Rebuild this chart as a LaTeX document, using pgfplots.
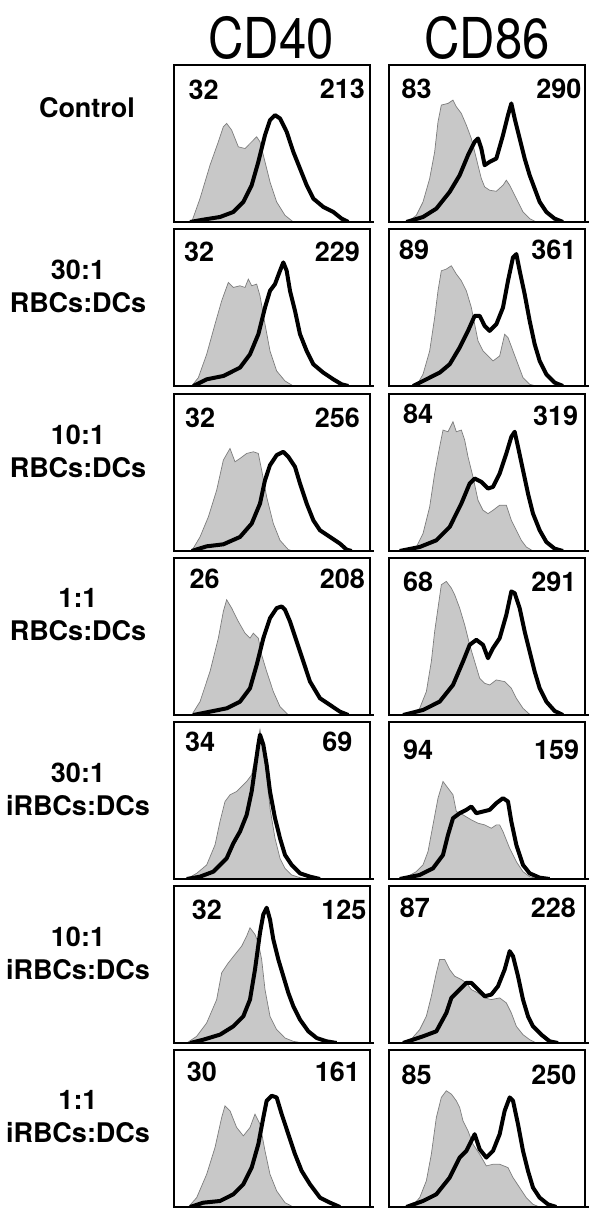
\documentclass[border=0pt]{standalone}
\usepackage{pgfplots}
\pgfplotsset{compat=1.18}
\usepackage{graphicx}
\usepackage{fontspec}
\setmainfont{TeX Gyre Heros}

\definecolor{isofill}{RGB}{200,200,200}
\definecolor{isoedge}{RGB}{125,125,125}

\pgfplotsset{
  panel/.style={
    width=196pt, height=157pt, scale only axis, anchor=north west,
    xmin=0, xmax=588, ymin=0, ymax=470,
    xtick=\empty, ytick=\empty,
    axis line style={line width=1.4pt},
    clip mode=individual,
  },
  iso/.style={draw=isoedge, line width=0.7pt, fill=isofill},
  stain/.style={black, line width=4pt, line join=round},
}
\newcommand{\numfont}{\fontsize{27}{27}\bfseries\selectfont}
\newcommand{\base}{\draw[line width=2.8pt] (rel axis cs:-0.005,0) -- (rel axis cs:1.02,0);}

\begin{document}
\begin{tikzpicture}[num/.style={inner sep=0pt, font=\numfont}]
\path[use as bounding box] (0,0) rectangle (600pt,-1219pt);

% column headers
\node at (271pt,-38pt) {\scalebox{1}[1.15]{\fontsize{49}{49}\selectfont CD40}};
\node at (487pt,-38pt) {\scalebox{1}[1.15]{\fontsize{49}{49}\selectfont CD86}};

% row labels
\begin{scope}[every node/.style={align=center, font=\fontsize{27}{33}\bfseries\selectfont}]
\node at (87pt,-108pt) {Control};
\node at (78pt,-286pt) {30:1\\RBCs:DCs};
\node at (78pt,-451pt) {10:1\\RBCs:DCs};
\node at (78pt,-615pt) {1:1\\RBCs:DCs};
\node at (78pt,-789pt) {30:1\\iRBCs:DCs};
\node at (78pt,-953pt) {10:1\\iRBCs:DCs};
\node at (78pt,-1117pt) {1:1\\iRBCs:DCs};
\end{scope}

% ---- row 1: Control
\begin{axis}[panel, at={(174pt,-65pt)}]
\addplot[iso] coordinates {(53,0) (78,70) (108,170) (133,240) (148,285) (158,295) (173,275) (193,225) (213,220) (228,235) (248,255) (258,240) (273,180) (288,120) (308,60) (333,20) (358,0)} \closedcycle;
\addplot[stain] coordinates {(48,0) (88,7) (138,15) (178,30) (208,60) (233,110) (253,180) (273,260) (288,305) (303,320) (318,310) (338,270) (358,210) (378,160) (398,110) (418,70) (448,45) (478,30) (503,10) (523,0)};
\base
\node[num, anchor=north west] at (axis cs:43,425) {32};
\node[num, anchor=north east] at (axis cs:573,430) {213};
\end{axis}
\begin{axis}[panel, at={(389pt,-65pt)}]
\addplot[iso] coordinates {(57,0) (82,20) (102,60) (122,130) (137,210) (147,300) (157,350) (177,355) (192,365) (202,345) (217,325) (232,290) (247,250) (257,210) (267,170) (277,130) (287,105) (302,95) (322,92) (342,110) (352,125) (362,110) (372,90) (387,60) (402,30) (422,10) (442,0)} \closedcycle;
\addplot[stain] coordinates {(52,0) (102,15) (142,40) (182,90) (212,140) (237,200) (257,240) (267,250) (277,220) (287,170) (302,180) (322,190) (342,260) (357,320) (367,355) (377,310) (392,250) (407,190) (422,140) (437,100) (452,60) (472,30) (497,10) (522,0)};
\base
\node[num, anchor=north west] at (axis cs:37,430) {83};
\node[num, anchor=north east] at (axis cs:578,430) {290};
\end{axis}

% ---- row 2: 30:1 RBCs:DCs
\begin{axis}[panel, at={(174pt,-229pt)}]
\addplot[iso] coordinates {(53,0) (73,25) (98,95) (123,185) (143,255) (163,310) (178,295) (198,300) (213,295) (223,320) (233,300) (248,305) (258,270) (273,185) (288,105) (308,45) (333,15) (358,0)} \closedcycle;
\addplot[stain] coordinates {(58,0) (98,20) (148,30) (198,55) (228,95) (253,155) (273,235) (288,285) (303,305) (318,345) (328,370) (338,345) (348,285) (363,225) (378,155) (398,105) (418,65) (448,40) (478,20) (503,5) (523,0)};
\base
\node[num, anchor=north west] at (axis cs:30,432) {32};
\node[num, anchor=north east] at (axis cs:558,432) {229};
\end{axis}
\begin{axis}[panel, at={(389pt,-229pt)}]
\addplot[iso] coordinates {(82,0) (102,35) (122,105) (137,205) (147,285) (157,345) (172,350) (187,360) (202,335) (217,315) (232,285) (247,235) (257,185) (267,135) (282,105) (297,90) (312,75) (332,90) (347,155) (357,145) (372,105) (387,65) (402,25) (422,5) (442,0)} \closedcycle;
\addplot[stain] coordinates {(72,0) (112,20) (152,40) (182,65) (212,115) (237,165) (257,210) (272,210) (287,180) (302,165) (322,185) (342,235) (357,315) (372,385) (382,395) (392,345) (407,275) (422,195) (437,125) (452,75) (472,35) (497,10) (522,0)};
\base
\node[num, anchor=north west] at (axis cs:30,437) {89};
\node[num, anchor=north east] at (axis cs:563,437) {361};
\end{axis}

% ---- row 3: 10:1 RBCs:DCs
\begin{axis}[panel, at={(174pt,-394pt)}]
\addplot[iso] coordinates {(53,0) (78,42) (103,102) (128,182) (148,272) (168,307) (183,267) (198,277) (218,292) (238,297) (253,292) (263,242) (278,162) (298,82) (318,32) (343,4) (358,0)} \closedcycle;
\addplot[stain] coordinates {(53,0) (98,14) (148,20) (198,42) (233,82) (258,142) (273,212) (288,257) (308,287) (328,297) (343,282) (363,252) (378,202) (398,142) (418,92) (438,62) (468,42) (498,22) (518,4) (533,0)};
\base
\node[num, anchor=north west] at (axis cs:33,430) {32};
\node[num, anchor=north east] at (axis cs:558,430) {256};
\end{axis}
\begin{axis}[panel, at={(389pt,-394pt)}]
\addplot[iso] coordinates {(57,0) (82,12) (102,52) (122,132) (137,232) (152,312) (162,362) (177,357) (192,387) (202,357) (217,362) (227,332) (237,282) (252,222) (267,152) (282,122) (297,112) (312,122) (332,137) (352,137) (367,92) (382,62) (397,32) (412,12) (432,0)} \closedcycle;
\addplot[stain] coordinates {(32,0) (92,12) (142,32) (182,72) (217,142) (242,202) (257,217) (277,207) (297,187) (312,192) (332,232) (352,292) (367,342) (377,357) (387,312) (402,242) (417,172) (432,112) (452,62) (472,27) (497,7) (522,0)};
\base
\node[num, anchor=north west] at (axis cs:42,440) {84};
\node[num, anchor=north east] at (axis cs:568,435) {319};
\end{axis}

% ---- row 4: 1:1 RBCs:DCs
\begin{axis}[panel, at={(174pt,-558pt)}]
\addplot[iso] coordinates {(53,0) (78,40) (108,130) (133,230) (148,310) (158,345) (173,320) (193,280) (213,245) (228,230) (238,245) (253,230) (263,180) (278,130) (298,70) (318,25) (343,0)} \closedcycle;
\addplot[stain] coordinates {(58,0) (108,10) (158,20) (198,40) (228,80) (248,150) (268,230) (288,290) (308,320) (323,325) (333,315) (348,280) (368,220) (388,160) (408,100) (438,50) (468,30) (498,10) (523,0)};
\base
\node[num, anchor=north west] at (axis cs:46,438) {26};
\node[num, anchor=north east] at (axis cs:573,438) {208};
\end{axis}
\begin{axis}[panel, at={(389pt,-558pt)}]
\addplot[iso] coordinates {(72,0) (92,20) (112,70) (127,160) (137,250) (147,320) (157,390) (172,400) (187,380) (197,360) (212,320) (227,270) (242,210) (257,160) (272,110) (287,95) (302,90) (322,105) (347,100) (367,80) (382,50) (402,20) (422,2) (442,0)} \closedcycle;
\addplot[stain] coordinates {(42,0) (102,15) (152,40) (192,90) (222,160) (242,210) (262,225) (282,210) (297,170) (312,200) (332,230) (352,300) (367,370) (377,365) (392,320) (407,250) (422,190) (437,130) (452,80) (472,40) (497,12) (522,0)};
\base
\node[num, anchor=north west] at (axis cs:42,428) {68};
\node[num, anchor=north east] at (axis cs:563,428) {291};
\end{axis}

% ---- row 5: 30:1 iRBCs:DCs
\begin{axis}[panel, at={(174pt,-722pt)}]
\addplot[iso] coordinates {(38,0) (68,17) (98,42) (123,102) (138,172) (153,232) (168,252) (188,262) (203,277) (218,292) (233,312) (243,362) (253,422) (258,447) (268,382) (278,312) (288,212) (303,122) (318,62) (333,32) (353,12) (378,4) (408,0)} \closedcycle;
\addplot[stain] coordinates {(38,0) (78,7) (118,22) (158,62) (178,107) (198,142) (218,192) (233,262) (243,332) (253,402) (258,432) (268,402) (278,342) (288,262) (303,182) (318,122) (333,72) (353,42) (378,17) (408,7) (438,0)};
\base
\node[num, anchor=north west] at (axis cs:33,441) {34};
\node[num, anchor=north east] at (axis cs:536,441) {69};
\end{axis}
\begin{axis}[panel, at={(389pt,-722pt)}]
\addplot[iso] coordinates {(42,0) (82,22) (102,42) (117,82) (132,162) (147,242) (162,292) (177,272) (192,252) (202,202) (222,192) (247,177) (267,167) (287,162) (307,152) (322,162) (332,162) (342,142) (362,92) (382,52) (402,22) (422,7) (447,0)} \closedcycle;
\addplot[stain] coordinates {(32,0) (92,12) (132,32) (162,72) (177,132) (192,182) (212,197) (232,207) (247,217) (262,197) (282,202) (302,207) (322,227) (342,242) (357,232) (367,172) (382,102) (402,42) (422,17) (452,4) (482,0)};
\base
\node[num, anchor=north west] at (axis cs:42,416) {94};
\node[num, anchor=north east] at (axis cs:571,416) {159};
\end{axis}

% ---- row 6: 10:1 iRBCs:DCs
\begin{axis}[panel, at={(174pt,-886pt)}]
\addplot[iso] coordinates {(38,0) (68,20) (98,60) (128,130) (143,210) (163,240) (183,265) (203,290) (218,320) (228,345) (243,325) (253,300) (263,250) (273,160) (288,80) (308,40) (333,15) (358,5) (388,0)} \closedcycle;
\addplot[stain] coordinates {(48,0) (88,10) (138,25) (178,50) (208,80) (228,130) (243,220) (258,330) (268,385) (278,405) (288,370) (298,310) (313,250) (328,200) (343,150) (358,110) (378,70) (403,35) (428,15) (458,5) (488,0)};
\base
\node[num, anchor=north west] at (axis cs:53,430) {32};
\node[num, anchor=north east] at (axis cs:578,430) {125};
\end{axis}
\begin{axis}[panel, at={(389pt,-886pt)}]
\addplot[iso] coordinates {(57,0) (92,40) (112,80) (127,140) (142,210) (152,250) (167,250) (182,220) (197,200) (217,190) (232,180) (247,160) (267,150) (287,135) (307,130) (332,135) (352,120) (367,90) (382,50) (402,25) (422,10) (442,0)} \closedcycle;
\addplot[stain] coordinates {(42,0) (102,20) (142,35) (172,90) (187,135) (212,160) (232,180) (247,180) (267,160) (287,140) (307,145) (327,170) (347,220) (362,275) (372,260) (387,200) (402,130) (417,80) (432,50) (457,25) (482,5) (507,0)};
\base
\node[num, anchor=north west] at (axis cs:32,435) {87};
\node[num, anchor=north east] at (axis cs:561,435) {228};
\end{axis}

% ---- row 7: 1:1 iRBCs:DCs
\begin{axis}[panel, at={(174pt,-1050pt)}]
\addplot[iso] coordinates {(43,0) (68,28) (98,98) (123,178) (143,268) (153,303) (168,288) (188,238) (208,213) (228,238) (243,278) (258,248) (273,168) (288,98) (308,48) (333,13) (358,0)} \closedcycle;
\addplot[stain] coordinates {(48,0) (88,13) (138,18) (178,38) (208,68) (233,118) (253,188) (268,268) (278,318) (293,333) (308,328) (323,278) (343,218) (363,158) (383,108) (408,68) (438,28) (468,13) (498,0)};
\base
\node[num, anchor=north west] at (axis cs:38,435) {30};
\node[num, anchor=north east] at (axis cs:558,435) {161};
\end{axis}
\begin{axis}[panel, at={(389pt,-1050pt)}]
\addplot[iso] coordinates {(67,0) (92,28) (112,78) (127,158) (142,268) (157,328) (172,348) (187,338) (202,318) (212,298) (222,258) (237,228) (252,188) (272,158) (292,123) (312,128) (332,128) (357,118) (372,88) (392,58) (412,28) (432,8) (452,0)} \closedcycle;
\addplot[stain] coordinates {(52,0) (102,18) (142,38) (182,88) (212,148) (232,168) (247,198) (257,218) (272,173) (292,148) (312,168) (332,218) (347,288) (362,328) (372,318) (387,248) (402,168) (417,108) (432,58) (452,28) (477,8) (502,0)};
\base
\node[num, anchor=north west] at (axis cs:37,425) {85};
\node[num, anchor=north east] at (axis cs:563,425) {250};
\end{axis}
\end{tikzpicture}
\end{document}
